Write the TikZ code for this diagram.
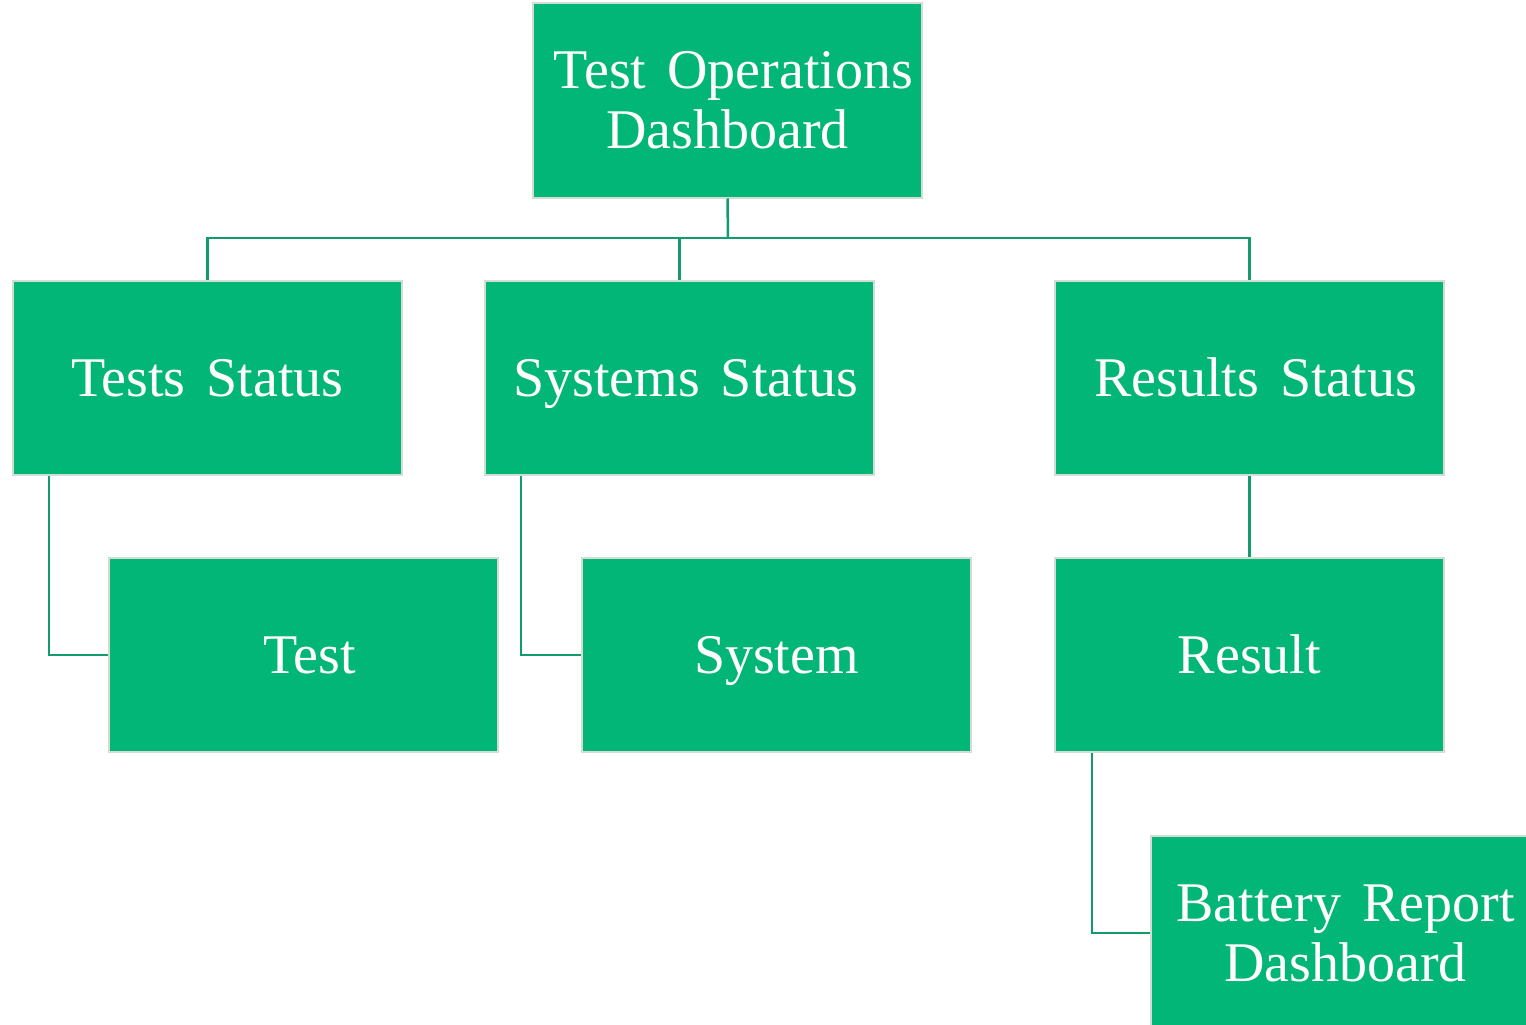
\documentclass[tikz,border=0pt]{standalone}
\usepackage{fontspec}
\setmainfont[WordSpace=1.5]{Liberation Serif}
\definecolor{boxgreen}{HTML}{02B677}
\definecolor{boxrim}{HTML}{D3DDD3}
\definecolor{linkgreen}{HTML}{139B6B}
\newcommand{\lead}{\hspace*{12pt}}
% keeps one-line labels on a common baseline inside their boxes
\newcommand{\labelstrut}{\rule[-15pt]{0pt}{67pt}}
\begin{document}
\begin{tikzpicture}[x=1pt,y=-1pt,
  orgbox/.style={draw=boxrim, line width=2pt, fill=boxgreen, text=white,
    minimum width=389pt, minimum height=194pt, inner sep=0pt,
    align=center, font=\fontsize{56}{60}\selectfont},
  link/.style={draw=linkgreen, line width=2.5pt}]
\useasboundingbox (0,0) rectangle (1526,1025);
% boxes
\node[orgbox] (root) at (727.5,100.5) {\lead Test Operations\\Dashboard};
\node[orgbox] (ts) at (207.5,378) {\labelstrut Tests Status};
\node[orgbox] (ss) at (679.5,378) {\labelstrut\lead Systems Status};
\node[orgbox] (rs) at (1249.5,378) {\labelstrut\lead Results Status};
\node[orgbox] (t) at (303.5,655) {\labelstrut\lead Test};
\node[orgbox] (s) at (776.5,655) {\labelstrut System};
\node[orgbox] (r) at (1249.5,655) {\labelstrut Result};
\node[orgbox] (b) at (1345.5,933) {Battery Report\\Dashboard};
% connectors
\coordinate (bus) at (728,238);
\draw[link] (root.south) -- (bus);
\draw[link] (bus) -| (ts.north);
\draw[link] (bus) -| (ss.north);
\draw[link] (bus) -| (rs.north);
\draw[link] ([xshift=37pt]ts.south west) |- (t.west);
\draw[link] ([xshift=37pt]ss.south west) |- (s.west);
\draw[link] (rs.south) -- (r.north);
\draw[link] ([xshift=38pt]r.south west) |- (b.west);
\end{tikzpicture}
\end{document}
